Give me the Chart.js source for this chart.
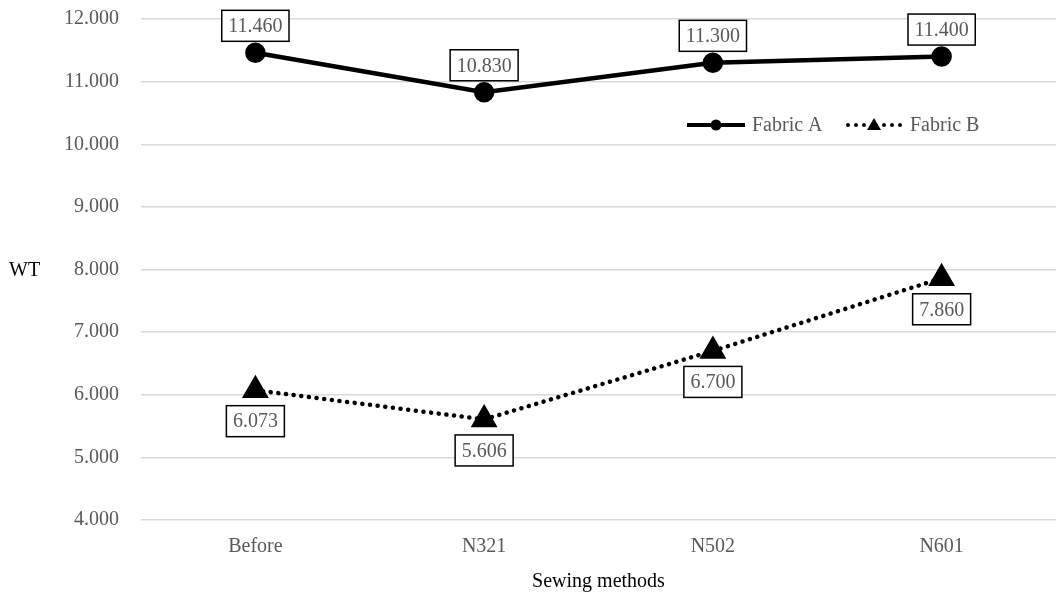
<!DOCTYPE html>
<html>
<head>
<meta charset="utf-8">
<script src="https://cdn.jsdelivr.net/npm/chart.js@4/dist/chart.umd.min.js"></script>
<style>
  html, body { margin: 0; padding: 0; background: #fff; }
  #wrap { width: 1056px; height: 594px; }
</style>
</head>
<body>
<div id="wrap"><canvas id="c" width="1056" height="594"></canvas></div>
<script>
const categories = ['Before', 'N321', 'N502', 'N601'];
const fabricA = [11.460, 10.830, 11.300, 11.400];
const fabricB = [6.073, 5.606, 6.700, 7.860];
const yTicks = [4, 5, 6, 7, 8, 9, 10, 11, 12];

const FONT = '"Liberation Serif", "Times New Roman", serif';
const GREY = '#595959';

// Boxed value labels: Fabric A above its points, Fabric B below
const boxLabels = {
  id: 'boxLabels',
  afterDatasetsDraw(chart) {
    const ctx = chart.ctx;
    ctx.save();
    ctx.font = '20px ' + FONT;
    ctx.textAlign = 'center';
    ctx.textBaseline = 'middle';
    chart.data.datasets.forEach((ds, di) => {
      const meta = chart.getDatasetMeta(di);
      meta.data.forEach((pt, i) => {
        const txt = ds.data[i].toFixed(3);
        const w = ctx.measureText(txt).width + 13;
        const h = 31;
        const cy = di === 0 ? pt.y - 27 : pt.y + 31;
        ctx.fillStyle = '#fff';
        ctx.fillRect(pt.x - w / 2, cy - h / 2, w, h);
        ctx.strokeStyle = '#000';
        ctx.lineWidth = 1.5;
        ctx.strokeRect(pt.x - w / 2, cy - h / 2, w, h);
        ctx.fillStyle = GREY;
        ctx.fillText(txt, pt.x, cy + 1);
      });
    });
    ctx.restore();
  }
};

// Legend placed inside the plot, and the horizontal "WT" axis title
const extras = {
  id: 'extras',
  afterDraw(chart) {
    const ctx = chart.ctx;
    ctx.save();
    ctx.font = '20px ' + FONT;
    ctx.fillStyle = '#000';
    ctx.textBaseline = 'middle';
    ctx.textAlign = 'left';
    ctx.fillText('WT', 9, 271);

    const ly = 125;
    // Fabric A sample
    ctx.strokeStyle = '#000';
    ctx.lineWidth = 4;
    ctx.setLineDash([]);
    ctx.beginPath();
    ctx.moveTo(687, ly); ctx.lineTo(745, ly); ctx.stroke();
    ctx.beginPath(); ctx.arc(716, ly, 5.5, 0, Math.PI * 2); ctx.fillStyle = '#000'; ctx.fill();
    ctx.fillStyle = GREY;
    ctx.fillText('Fabric A', 752, ly + 1);
    // Fabric B sample
    ctx.fillStyle = '#000';
    [848, 856, 864, 884, 892, 900].forEach(x => {
      ctx.beginPath(); ctx.arc(x, ly, 2, 0, Math.PI * 2); ctx.fill();
    });
    ctx.beginPath();
    ctx.moveTo(874, ly - 7); ctx.lineTo(881, ly + 5); ctx.lineTo(867, ly + 5); ctx.closePath(); ctx.fill();
    ctx.fillStyle = GREY;
    ctx.fillText('Fabric B', 910, ly + 1);
    ctx.restore();
  }
};

new Chart(document.getElementById('c'), {
  type: 'line',
  data: {
    labels: categories,
    datasets: [
      {
        label: 'Fabric A',
        data: fabricA,
        borderColor: '#000',
        backgroundColor: '#000',
        borderWidth: 4.5,
        pointStyle: 'circle',
        pointRadius: 8,
        pointHoverRadius: 8,
        tension: 0
      },
      {
        label: 'Fabric B',
        data: fabricB,
        borderColor: '#000',
        backgroundColor: '#000',
        borderWidth: 4.5,
        borderDash: [0.1, 7.6],
        borderCapStyle: 'round',
        pointStyle: 'triangle',
        pointRadius: 11,
        pointHoverRadius: 11,
        tension: 0
      }
    ]
  },
  options: {
    responsive: false,
    animation: false,
    events: [],
    layout: { autoPadding: false, padding: { top: 19, right: 0, bottom: 0, left: 0 } },
    plugins: { legend: { display: false }, tooltip: { enabled: false } },
    scales: {
      x: {
        offset: true,
        grid: { display: false },
        border: { display: false },
        ticks: { color: GREY, font: { family: FONT, size: 20 }, padding: 7 },
        title: {
          display: true,
          text: 'Sewing methods',
          color: '#000',
          font: { family: FONT, size: 20 },
          padding: { top: 14, bottom: 0 }
        },
        afterFit(scale) {
          scale.height = 74;
          scale.paddingLeft = 0;
          scale.paddingRight = 0;
        }
      },
      y: {
        min: 4,
        max: 12,
        afterBuildTicks(scale) { scale.ticks = yTicks.map(v => ({ value: v })); },
        grid: { color: '#d9d9d9', lineWidth: 1.5, drawTicks: false },
        border: { display: false },
        ticks: {
          color: GREY,
          font: { family: FONT, size: 20 },
          padding: 22,
          callback: v => Number(v).toFixed(3)
        },
        afterFit(scale) {
          scale.width = 141;
          scale.paddingTop = 0;
          scale.paddingBottom = 0;
        }
      }
    }
  },
  plugins: [boxLabels, extras]
});
</script>
</body>
</html>
